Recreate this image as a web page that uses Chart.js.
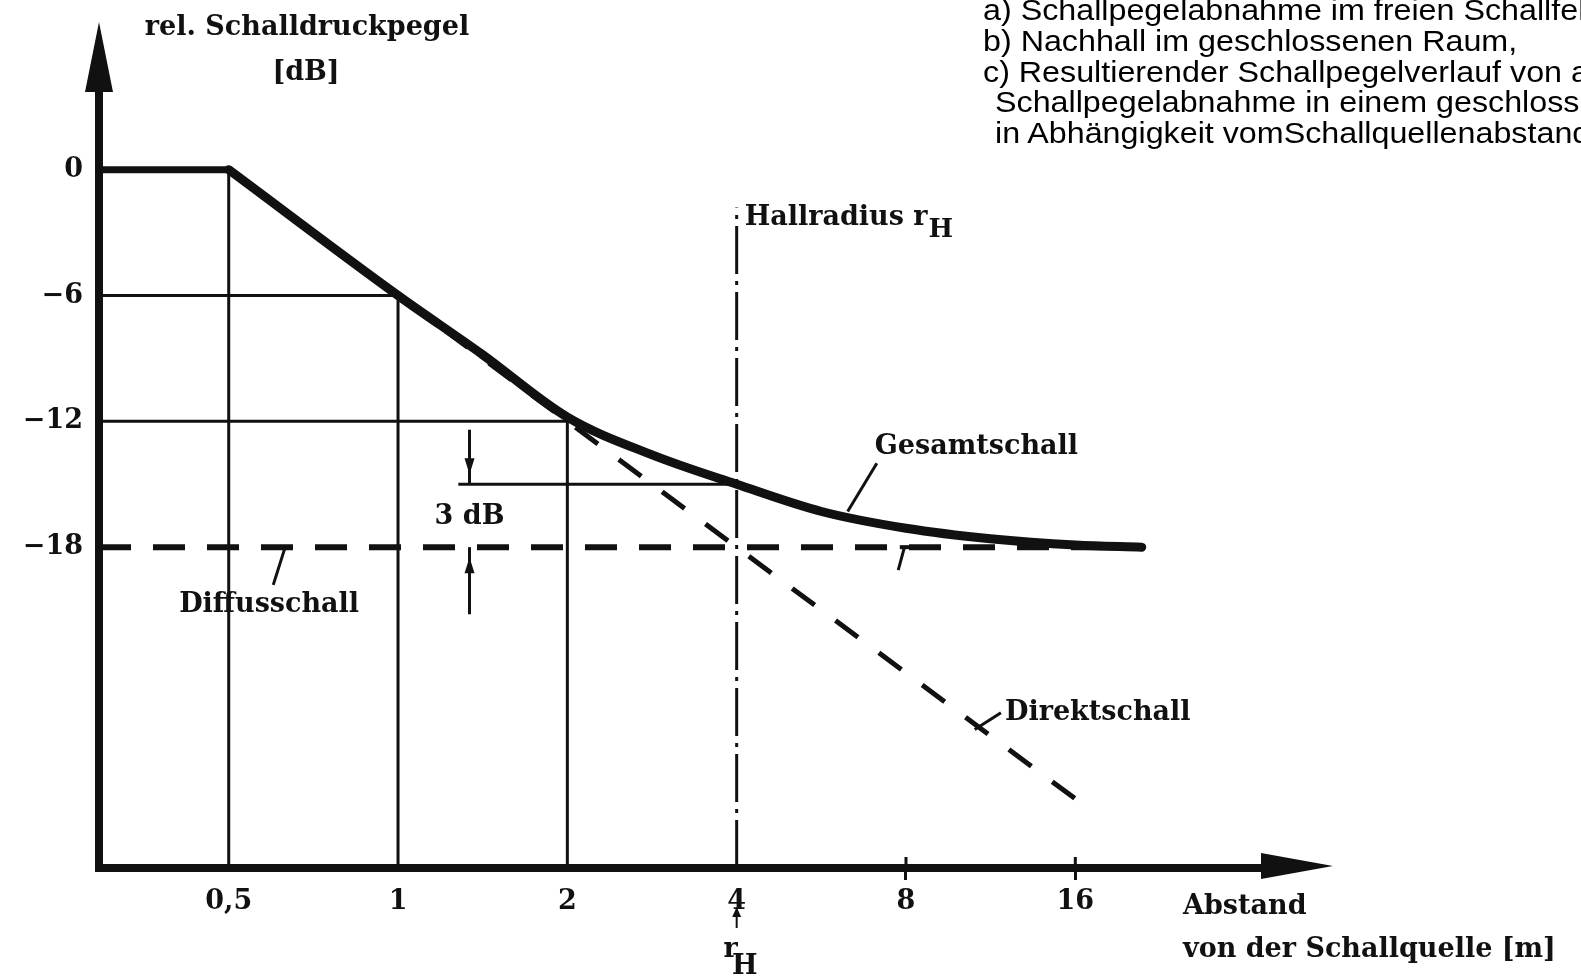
<!DOCTYPE html>
<html lang="de">
<head>
<meta charset="utf-8">
<title>Schallpegel und Abstand</title>
<script src="https://cdn.jsdelivr.net/npm/chart.js@4.4.1/dist/chart.umd.min.js"></script>
<style>
  html, body { margin: 0; padding: 0; background: #fff; overflow: hidden; }
  #wrap { position: relative; width: 1581px; height: 980px; overflow: hidden; }
  .note {
    position: absolute;
    font-family: "Liberation Sans", Arial, sans-serif;
    font-size: 30px;
    line-height: 30.4px;
    color: #000;
    white-space: nowrap;
    transform: scaleX(1.075);
    transform-origin: left top;
  }
</style>
</head>
<body>
<div id="wrap">
  <canvas id="pegelChart"></canvas>
  <div class="note" style="left:983px; top:-5px;">a) Schallpegelabnahme im freien Schallfeld,</div>
  <div class="note" style="left:983px; top:26px;">b) Nachhall im geschlossenen Raum,</div>
  <div class="note" style="left:983px; top:56.5px;">c) Resultierender Schallpegelverlauf von a)</div>
  <div class="note" style="left:995px; top:87px;">Schallpegelabnahme in einem geschlossenen</div>
  <div class="note" style="left:995px; top:117.5px;">in Abhängigkeit vomSchallquellenabstand</div>
</div>
<script>
// Abstand in m (logarithmisch), Pegel in dB
const xTicks = [0.5, 1, 2, 4, 8, 16];
const yTicks = [0, -6, -12, -18];
const X_MIN = 0.294;
const X_MAX = 34.5;
const Y_MIN = -33.3;
const Y_MAX = 3.8;

// Gesamtschall
const plateauX = [X_MIN, 0.5];
const plateauY = [0, 0];
const gesamtX = [0.5, 1, 1.41, 2, 2.83, 4, 5.66, 8, 11.3, 16, 21];
const gesamtY = [0, -6, -8.8, -11.8, -13.6, -15, -16.3, -17.1, -17.6, -17.9, -18];

// Direktschall
const direktX = [0.5, 1, 2, 4, 8, 16];
const direktY = [0, -6, -12, -18, -24, -30];

// Diffusschall
const diffusX = [X_MIN, 21];
const diffusY = [-18, -18];

// Hallradius
const hallX = 4;
const hallTop = -1.8;
const gesamtAtHall = -15;

// Hilfslinien: [x1, y1, x2, y2]
const guideLines = [
  [0.5, Y_MIN, 0.5, 0],
  [1, Y_MIN, 1, -6],
  [2, Y_MIN, 2, -12],
  [X_MIN, -6, 1, -6],
  [X_MIN, -12, 2, -12],
  [1.28, gesamtAtHall, hallX, gesamtAtHall]
];

const INK = '#111';
const SERIF = '"DejaVu Serif", "Liberation Serif", serif';

const toPoints = (xs, ys) => xs.map((x, i) => ({ x: x, y: ys[i] }));

const lineStyle = {
  pointRadius: 0,
  fill: false,
  borderColor: INK,
  tension: 0
};

const datasets = [
  Object.assign({}, lineStyle, {
    label: 'Gesamtschall',
    data: toPoints(gesamtX, gesamtY),
    borderWidth: 9,
    cubicInterpolationMode: 'monotone',
    borderCapStyle: 'round'
  }),
  Object.assign({}, lineStyle, {
    label: 'Gesamtschall Plateau',
    data: toPoints(plateauX, plateauY),
    borderWidth: 7
  }),
  Object.assign({}, lineStyle, {
    label: 'Direktschall',
    data: toPoints(direktX, direktY),
    borderWidth: 5,
    borderDash: [28, 26]
  }),
  Object.assign({}, lineStyle, {
    label: 'Diffusschall',
    data: toPoints(diffusX, diffusY),
    borderWidth: 6,
    borderDash: [32, 22]
  }),
  Object.assign({}, lineStyle, {
    label: 'Hallradius',
    data: [{ x: hallX, y: Y_MIN }, { x: hallX, y: hallTop }],
    borderWidth: 3,
    borderDash: [48, 7, 4, 7]
  })
];

guideLines.forEach((g, i) => {
  datasets.push(Object.assign({}, lineStyle, {
    label: 'Hilfslinie ' + (i + 1),
    data: [{ x: g[0], y: g[1] }, { x: g[2], y: g[3] }],
    borderWidth: 3
  }));
});

function arrowHead(ctx, tipX, tipY, dirX, dirY, len, half) {
  const nx = -dirY, ny = dirX;
  const bx = tipX - dirX * len, by = tipY - dirY * len;
  ctx.beginPath();
  ctx.moveTo(tipX, tipY);
  ctx.lineTo(bx + nx * half, by + ny * half);
  ctx.lineTo(bx - nx * half, by - ny * half);
  ctx.closePath();
  ctx.fill();
}

function segment(ctx, x1, y1, x2, y2, w) {
  ctx.lineWidth = w;
  ctx.beginPath();
  ctx.moveTo(x1, y1);
  ctx.lineTo(x2, y2);
  ctx.stroke();
}

function subLabel(ctx, main, sub, x, y, size) {
  ctx.font = 'bold ' + size + 'px ' + SERIF;
  ctx.textAlign = 'left';
  ctx.fillText(main, x, y);
  const w = ctx.measureText(main).width;
  ctx.font = 'bold ' + Math.round(size * 0.95) + 'px ' + SERIF;
  ctx.fillText(sub, x + w + 1, y + 12);
}

const decorPlugin = {
  id: 'figureDecor',
  afterDraw(chart) {
    const { ctx, chartArea: a, scales } = chart;
    const px = v => scales.x.getPixelForValue(v);
    const py = v => scales.y.getPixelForValue(v);

    ctx.save();
    ctx.fillStyle = INK;
    ctx.strokeStyle = INK;
    ctx.lineCap = 'butt';

    // Pfeilspitzen der Achsen
    arrowHead(ctx, a.left, a.top - 68, 0, -1, 70, 14);
    segment(ctx, a.right - 2, a.bottom, a.right + 10, a.bottom, 8);
    arrowHead(ctx, a.right + 70, a.bottom - 2, 1, 0, 72, 13);

    // Teilstriche bei 8 und 16 auch oberhalb der Achse
    [8, 16].forEach(v => segment(ctx, px(v), a.bottom - 11, px(v), a.bottom, 3));

    // 3 dB Markierung
    const m = 1.34;
    segment(ctx, px(m), py(-12.4), px(m), py(gesamtAtHall), 3);
    arrowHead(ctx, px(m), py(gesamtAtHall) - 10, 0, 1, 16, 5);
    segment(ctx, px(m), py(-21.2), px(m), py(-18), 3);
    arrowHead(ctx, px(m), py(-18) + 10, 0, -1, 16, 5);

    // Hinweislinien
    segment(ctx, px(0.63), py(-18), px(0.60), py(-19.8), 3);
    segment(ctx, px(7.8), py(-18), px(8.1), py(-18), 4);
    segment(ctx, px(7.95), py(-18), px(7.75), py(-19.1), 3);
    segment(ctx, px(7.1), py(-14.0), px(6.3), py(-16.3), 3);
    segment(ctx, px(11.8), py(-25.9), px(10.6), py(-26.7), 3);

    // Pfeil unter der Abszisse bei r_H
    segment(ctx, px(hallX), a.bottom + 60, px(hallX), a.bottom + 48, 2);
    arrowHead(ctx, px(hallX), a.bottom + 39, 0, -1, 10, 4.5);

    // Beschriftungen
    ctx.textBaseline = 'middle';
    ctx.font = 'bold 27px ' + SERIF;
    ctx.textAlign = 'center';
    ctx.fillText('rel. Schalldruckpegel', 307, 28);
    ctx.fillText('[dB]', 306, 73);
    ctx.fillText('3 dB', px(m), py(-16.55));
    ctx.fillText('Diffusschall', px(0.59), py(-20.75));

    ctx.textAlign = 'left';
    ctx.fillText('Gesamtschall', px(7.04), py(-13.2));
    ctx.fillText('Direktschall', px(12.0), py(-25.9));
    ctx.fillText('Abstand', a.right - 80, a.bottom + 39);
    ctx.fillText('von der Schallquelle [m]', a.right - 80, a.bottom + 82);

    subLabel(ctx, 'Hallradius r', 'H', px(hallX) + 8, py(-2.3), 27);
    ctx.textAlign = 'center';
    ctx.font = 'bold 27px ' + SERIF;
    ctx.fillText('r', px(hallX) - 6, a.bottom + 82);
    ctx.fillText('H', px(hallX) + 8, a.bottom + 99);

    ctx.restore();
  }
};

const tickFont = { family: SERIF, size: 27, weight: 'bold' };

new Chart(document.getElementById('pegelChart'), {
  type: 'line',
  data: { datasets: datasets },
  plugins: [decorPlugin],
  options: {
    responsive: true,
    maintainAspectRatio: false,
    animation: false,
    layout: { padding: { top: 90, right: 318, left: 0, bottom: 0 } },
    plugins: {
      legend: { display: false },
      tooltip: { enabled: false }
    },
    scales: {
      x: {
        type: 'logarithmic',
        min: X_MIN,
        max: X_MAX,
        afterBuildTicks: scale => { scale.ticks = xTicks.map(v => ({ value: v })); },
        afterFit: scale => { scale.height = 112; },
        border: { display: true, width: 8, color: INK },
        grid: {
          drawOnChartArea: false,
          drawTicks: true,
          tickLength: 12,
          lineWidth: 3,
          color: ctx => (ctx.tick && ctx.tick.value >= 8 ? INK : 'rgba(0,0,0,0)')
        },
        ticks: {
          color: INK,
          font: tickFont,
          padding: 6,
          maxRotation: 0,
          autoSkip: false,
          callback: v => String(v).replace('.', ',')
        }
      },
      y: {
        type: 'linear',
        min: Y_MIN,
        max: Y_MAX,
        afterBuildTicks: scale => { scale.ticks = yTicks.map(v => ({ value: v })); },
        afterFit: scale => { scale.width = 99; },
        border: { display: true, width: 8, color: INK },
        grid: { display: false, drawTicks: false },
        ticks: {
          color: INK,
          font: tickFont,
          padding: 16,
          autoSkip: false,
          callback: v => (v < 0 ? '\u2212' + Math.abs(v) : String(v))
        }
      }
    }
  }
});
</script>
</body>
</html>
